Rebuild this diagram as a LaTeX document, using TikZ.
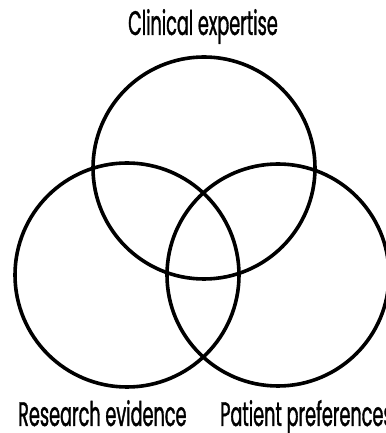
\documentclass[tikz,border=0pt]{standalone}
\usepackage{fontspec}
\newfontfamily\vennfont[FakeStretch=0.52,FakeBold=1]{Poppins}
\usepackage{tikz}

\begin{document}
\begin{tikzpicture}[x=1pt,y=1pt]
\useasboundingbox (0,0) rectangle (385,433);

  \draw[line width=3.6pt] (204,265) circle (111);
  \draw[line width=3.6pt] (127,158) circle (112);
  \draw[line width=3.6pt] (278,158) circle (111);

\node[anchor=base, font=\vennfont\fontsize{34}{34}\selectfont, inner sep=0pt] (clinical) at (203,398) {Clinical expertise};
\node[anchor=base west, font=\vennfont\fontsize{34}{34}\selectfont, inner sep=0pt] (research) at (18,7) {Research evidence};
\node[anchor=base west, font=\vennfont\fontsize{34}{34}\selectfont, inner sep=0pt] (patient) at (220,7) {Patient preferences};

\end{tikzpicture}
\end{document}
